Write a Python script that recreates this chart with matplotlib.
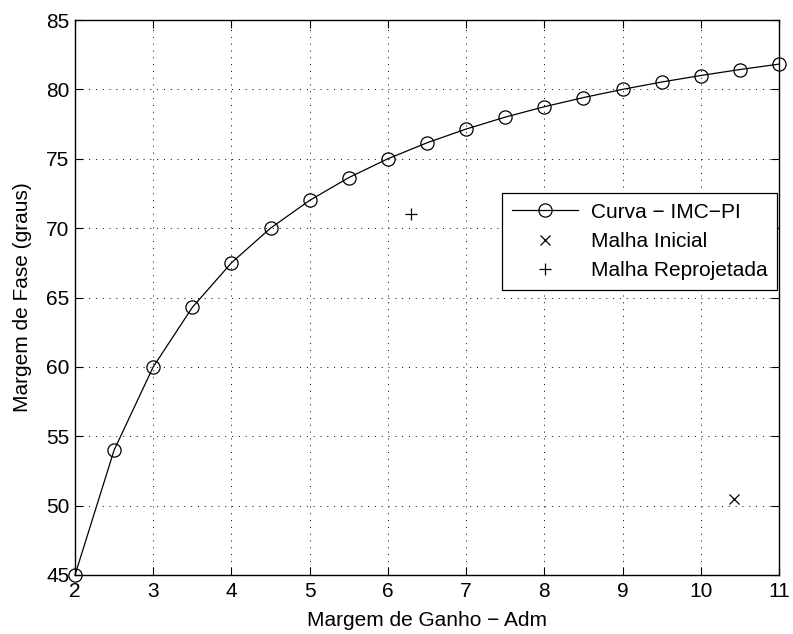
import matplotlib
matplotlib.use("Agg")
import matplotlib.pyplot as plt

plt.rcParams['font.family'] = ['Liberation Sans', 'DejaVu Sans']

am = [2, 2.5, 3, 3.5, 4, 4.5, 5, 5.5, 6, 6.5, 7, 7.5, 8, 8.5, 9, 9.5, 10, 10.5, 11]
pm = [45, 54, 60, 64.29, 67.5, 70, 72, 73.64, 75, 76.15, 77.14, 78, 78.75, 79.41, 80, 80.53, 81, 81.43, 81.82]
inicial_x = [10.43]
inicial_y = [50.5]
reproj_x = [6.29]
reproj_y = [71.0]
xticks = [2, 3, 4, 5, 6, 7, 8, 9, 10, 11]
yticks = [45, 50, 55, 60, 65, 70, 75, 80, 85]

fig = plt.figure(figsize=(7.93, 6.34), dpi=100)
ax = fig.add_axes([75/793, 1-575/634, 704/793, 555/634])
ax.plot(am, pm, '-', color='black', lw=0.9, marker='o', ms=9.5, mfc='none', mec='black', mew=0.9,
        label='Curva \u2212 IMC\u2212PI', clip_on=False, zorder=3)
ax.plot(inicial_x, inicial_y, 'x', color='black', ms=7, mew=0.9, label='Malha Inicial')
ax.plot(reproj_x, reproj_y, '+', color='black', ms=9, mew=0.9, label='Malha Reprojetada')

ax.set_xlim(2, 11)
ax.set_ylim(45, 85)
ax.set_xticks(xticks)
ax.set_yticks(yticks)
ax.tick_params(direction='in', length=6, width=0.8, labelsize=15, top=True, right=True, pad=4)
ax.tick_params(axis='x', pad=5)
ax.grid(True, linestyle=(0, (1, 6)), color='black', lw=0.7)
for s in ax.spines.values():
    s.set_linewidth(1.0)
ax.set_xlabel('Margem de Ganho \u2212 Adm', fontsize=15, labelpad=7)
ax.set_ylabel('Margem de Fase (graus)', fontsize=15, labelpad=10)

leg = ax.legend(loc='upper right', bbox_to_anchor=(0.9967, 0.688), borderaxespad=0, fontsize=15,
                fancybox=False, edgecolor='black', framealpha=1, handlelength=3.2,
                labelspacing=0.5, borderpad=0.45, handletextpad=0.6)
leg.get_frame().set_linewidth(0.9)

fig.savefig('out.png', dpi=100)
